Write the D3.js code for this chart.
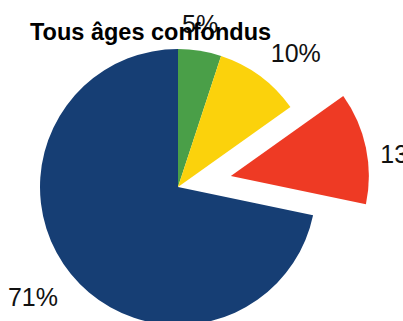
<!DOCTYPE html>
<html>
<head>
<meta charset="utf-8">
<script src="https://cdn.jsdelivr.net/npm/d3@7"></script>
<style>
  html, body { margin: 0; padding: 0; background: #fff; overflow: hidden; }
  svg { display: block; }
</style>
</head>
<body>
<script>
// Répartition, tous âges confondus
const categories = ["Vert", "Jaune", "Rouge", "Bleu"];
const values = [5, 10, 13, 71];
const labels = ["5%", "10%", "13%", "71%"];
const colors = ["#4a9f48", "#fbd20c", "#ee3a24", "#163e74"];
const exploded = [false, false, true, false];

const W = 403, H = 321;
const cx = 178, cy = 187, R = 138;
const explodeDist = 54;

const svg = d3.select("body").append("svg")
  .attr("width", W).attr("height", H);

const pie = d3.pie().sort(null).value(d => d.value);
const data = categories.map((c, i) => ({ name: c, value: values[i], label: labels[i], color: colors[i], out: exploded[i] }));
const arcs = pie(data);
const arc = d3.arc().innerRadius(0).outerRadius(R);

const g = svg.append("g").attr("transform", `translate(${cx},${cy})`);

function offsetOf(d, dist) {
  const a = (d.startAngle + d.endAngle) / 2;
  return [Math.sin(a) * dist, -Math.cos(a) * dist];
}

g.selectAll("path.slice").data(arcs).enter().append("path")
  .attr("class", "slice")
  .attr("d", arc)
  .attr("fill", d => d.data.color)
  .attr("transform", d => {
    const [dx, dy] = d.data.out ? offsetOf(d, explodeDist) : [0, 0];
    return `translate(${dx},${dy})`;
  });

// Étiquettes placées à l'extérieur du secteur
const labelR = R + 27;
const nudge = [[-4, 1], [20, 0], [13, 13], [-17, 7]];
g.selectAll("text.lbl").data(arcs).enter().append("text")
  .attr("class", "lbl")
  .attr("x", (d, i) => {
    const [ox] = d.data.out ? offsetOf(d, explodeDist) : [0, 0];
    return offsetOf(d, labelR)[0] + ox + nudge[i][0];
  })
  .attr("y", (d, i) => {
    const [, oy] = d.data.out ? offsetOf(d, explodeDist) : [0, 0];
    return offsetOf(d, labelR)[1] + oy + nudge[i][1] + 8;
  })
  .attr("text-anchor", "middle")
  .attr("font-family", "Liberation Sans, Arial, sans-serif")
  .attr("font-size", 25)
  .attr("fill", "#111")
  .text(d => d.data.label);

svg.append("text")
  .attr("x", 30).attr("y", 40)
  .attr("font-family", "Liberation Sans, Arial, sans-serif")
  .attr("font-weight", "bold")
  .attr("font-size", 23.5)
  .attr("fill", "#000")
  .text("Tous âges confondus");
</script>
</body>
</html>
